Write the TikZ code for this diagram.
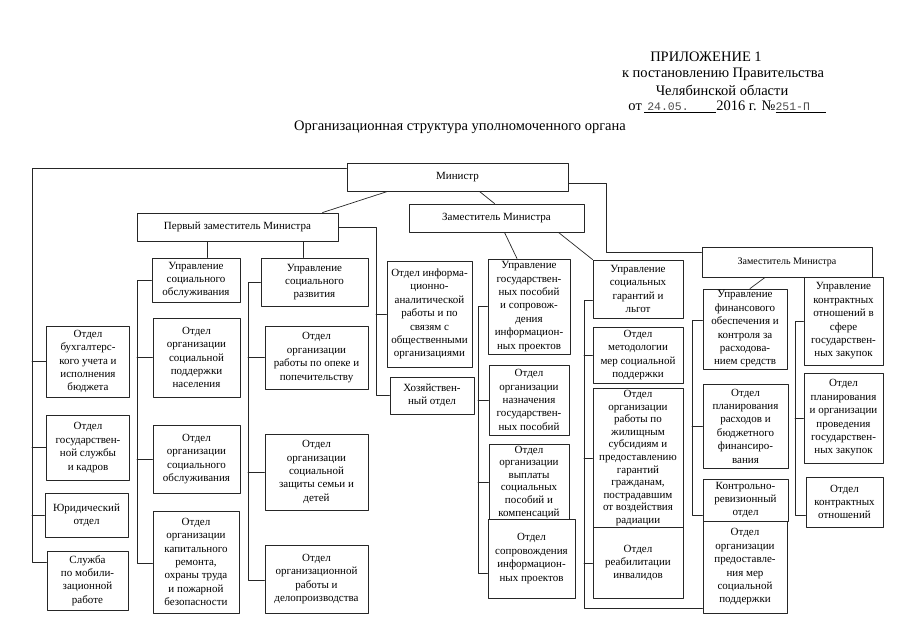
\documentclass[tikz,border=0pt]{standalone}
\usepackage{fontspec}
\setmainfont{Liberation Serif}
\newfontfamily\monofont{Liberation Mono}
\usetikzlibrary{positioning}
\newcommand{\unitfont}{\fontsize{11}{13.4}\selectfont}
\newcommand{\tightfont}{\fontsize{11}{12.6}\selectfont}
\newcommand{\datefont}{\monofont\fontsize{11.5}{13}\selectfont\color{black!70}}
\tikzset{
  unit/.style={draw=black!85, fill=white, line width=0.9pt, align=center, inner sep=1pt, font=\unitfont},
  link/.style={black!85, line width=0.7pt},
  hdr/.style={font=\fontsize{14.5}{16}\selectfont, inner sep=0pt},
}
\begin{document}
\begin{tikzpicture}[x=1pt, y=-1pt, line cap=round, line join=round]
\useasboundingbox (0,0) rectangle (905,640);
% header
\node[hdr] (annex) at (706,57) {ПРИЛОЖЕНИЕ 1};
\node[hdr] (decree) at (723,74) {к постановлению Правительства};
\node[hdr] (region) at (722,90) {Челябинской области};
\node[hdr] (dated) at (727,107) {от\,\underline{\makebox[72pt][l]{\hspace{3pt}\datefont 24.05.}}2016 г. №\underline{\makebox[50pt][l]{\datefont 251-П}}};
\node[hdr] (title) at (460,127) {Организационная структура уполномоченного органа};
% top level
\node[unit, minimum width=221, minimum height=28] (min) at (457.5,177) {Министр};
\node[unit, minimum width=201, minimum height=28] (fdep) at (237.5,227) {Первый заместитель Министра};
\node[unit, minimum width=175, minimum height=28] (dep1) at (496.5,218) {Заместитель Министра};
\node[unit, minimum width=170, minimum height=30, font=\fontsize{10}{11}\selectfont] (dep2) at (787,262) {Заместитель Министра};
% departments under the minister
\node[unit, minimum width=83, minimum height=71] (buh) at (88,361.5) {Отдел\\бухгалтерс-\\кого учета и\\исполнения\\бюджета};
\node[unit, minimum width=83, minimum height=65] (kadr) at (88,447.5) {Отдел\\государствен-\\ной службы\\и кадров};
\node[unit, minimum width=83, minimum height=44] (jur) at (86.5,515) {Юридический\\отдел};
\node[unit, minimum width=81, minimum height=59] (mob) at (87.5,580.5) {Служба\\по мобили-\\зационной\\работе};
% first deputy
\node[unit, minimum width=88, minimum height=44] (uso) at (196,280) {Управление\\социального\\обслуживания};
\node[unit, minimum width=87, minimum height=79] (osp) at (196.5,357.5) {Отдел\\организации\\социальной\\поддержки\\населения};
\node[unit, minimum width=87, minimum height=68] (oso) at (196.5,459) {Отдел\\организации\\социального\\обслуживания};
\node[unit, minimum width=86, minimum height=102] (okr) at (196,562) {Отдел\\организации\\капитального\\ремонта,\\охраны труда\\и пожарной\\безопасности};
\node[unit, minimum width=107, minimum height=48] (usr) at (314.5,282) {Управление\\социального\\развития};
\node[unit, minimum width=103, minimum height=63] (oop) at (316.5,357.5) {Отдел\\организации\\работы по опеке и\\попечительству};
\node[unit, minimum width=103, minimum height=76] (osz) at (316.5,472) {Отдел\\организации\\социальной\\защиты семьи и\\детей};
\node[unit, minimum width=103, minimum height=68] (odp) at (316.5,579) {Отдел\\организационной\\работы и\\делопроизводства};
\node[unit, minimum width=85, minimum height=106] (oia) at (429.5,314) {Отдел информа-\\ционно-\\аналитической\\работы и по\\связям с\\общественными\\организациями};
\node[unit, minimum width=84, minimum height=37] (hoz) at (432,395.5) {Хозяйствен-\\ный отдел};
% deputy, middle
\node[unit, minimum width=82, minimum height=95] (ugp) at (529,306.5) {Управление\\государствен-\\ных пособий\\и сопровож-\\дения\\информацион-\\ных проектов};
\node[unit, minimum width=80, minimum height=70] (ong) at (529,400) {Отдел\\организации\\назначения\\государствен-\\ных пособий};
\node[unit, minimum width=80, minimum height=76, font=\tightfont] (ovp) at (529,482) {Отдел\\организации\\выплаты\\социальных\\пособий и\\компенсаций};
\node[unit, minimum width=87, minimum height=79] (osi) at (531.5,558.5) {Отдел\\сопровождения\\информацион-\\ных проектов};
\node[unit, minimum width=90, minimum height=58] (usg) at (638,289) {Управление\\социальных\\гарантий и\\льгот};
\node[unit, minimum width=90, minimum height=56] (omp) at (638,355) {Отдел\\методологии\\мер социальной\\поддержки};
\node[unit, minimum width=90, minimum height=139, inner sep=0pt, font=\tightfont] (ozh) at (638,458) {Отдел\\организации\\работы по\\жилищным\\субсидиям и\\предоставлению\\гарантий\\гражданам,\\пострадавшим\\от воздействия\\радиации};
\node[unit, minimum width=90, minimum height=71] (ori) at (638,563) {Отдел\\реабилитации\\инвалидов};
% deputy, right
\node[unit, minimum width=84, minimum height=80] (ufo) at (745,329) {Управление\\финансового\\обеспечения и\\контроля за\\расходова-\\нием средств};
\node[unit, minimum width=85, minimum height=84] (opr) at (745.5,426) {Отдел\\планирования\\расходов и\\бюджетного\\финансиро-\\вания};
\node[unit, minimum width=85, minimum height=42, font=\tightfont] (okrv) at (745.5,500) {Контрольно-\\ревизионный\\отдел};
\node[unit, minimum width=84, minimum height=92] (opm) at (745,567) {Отдел\\организации\\предоставле-\\ния мер\\социальной\\поддержки};
\node[unit, minimum width=79, minimum height=88] (ukz) at (843.5,321) {Управление\\контрактных\\отношений в\\сфере\\государствен-\\ных закупок};
\node[unit, minimum width=79, minimum height=90] (opz) at (843.5,418) {Отдел\\планирования\\и организации\\проведения\\государствен-\\ных закупок};
\node[unit, minimum width=77, minimum height=50] (okt) at (844.5,502) {Отдел\\контрактных\\отношений};
% links from the minister
\draw[link] ([xshift=-70]min.south) -- ([xshift=85]fdep.north);
\draw[link] ([xshift=22]min.south) -- ([xshift=-2]dep1.north);
\coordinate (ryoke) at (606,183);
\draw[link] ([yshift=-6]min.east) -- (ryoke) |- ([yshift=10]dep2.west);
\coordinate (lyoke) at (32,562);
\draw[link] ([yshift=9]min.west) -| (lyoke) -- (mob.west |- lyoke);
\foreach \n in {buh,kadr,jur} \draw[link] (lyoke |- \n.west) -- (\n.west);
% first deputy
\draw[link] ([xshift=11]uso.north) -- ([xshift=11]uso.north |- fdep.south);
\draw[link] ([xshift=-11.5]usr.north) -- ([xshift=-11.5]usr.north |- fdep.south);
\coordinate (uspine) at (137,563);
\draw[link] (uso.west) -| (uspine) -- (okr.west |- uspine);
\foreach \n in {osp,oso} \draw[link] (uspine |- \n.west) -- (\n.west);
\coordinate (rspine) at (248,580);
\draw[link] (usr.west) -| (rspine) -- (odp.west |- rspine);
\foreach \n in {oop,osz} \draw[link] (rspine |- \n.west) -- (\n.west);
\coordinate (fspine) at (376,395.5);
\draw[link] (fdep.east) -| (fspine) -- (hoz.west);
\draw[link] (fspine |- oia.west) -- (oia.west);
% middle deputy
\draw[link] ([xshift=8]dep1.south) -- ([xshift=-12]ugp.north);
\draw[link] ([xshift=62]dep1.south) -- (usg.north west);
\coordinate (gspine) at (478,573);
\draw[link] (ugp.west) -| (gspine) -- (osi.west |- gspine);
\foreach \n in {ong,ovp} \draw[link] (gspine |- \n.west) -- (\n.west);
\coordinate (sspine) at (584,608);
\draw[link] ([yshift=-11]usg.west) -| (sspine) -- (opm.west |- sspine);
\foreach \n in {omp,ozh,ori} \draw[link] (sspine |- \n.west) -- (\n.west);
% right deputy
\draw[link] ([xshift=-22]dep2.south) -- ([xshift=5]ufo.north);
\coordinate (fspine2) at (692,515);
\draw[link] ([yshift=9]ufo.west) -| (fspine2) -- (okrv.west |- fspine2);
\draw[link] (fspine2 |- opr.west) -- (opr.west);
\coordinate (kspine) at (795,515);
\draw[link] (ukz.west) -| (kspine) -- (okt.west |- kspine);
\draw[link] (kspine |- opz.west) -- (opz.west);
\end{tikzpicture}
\end{document}
